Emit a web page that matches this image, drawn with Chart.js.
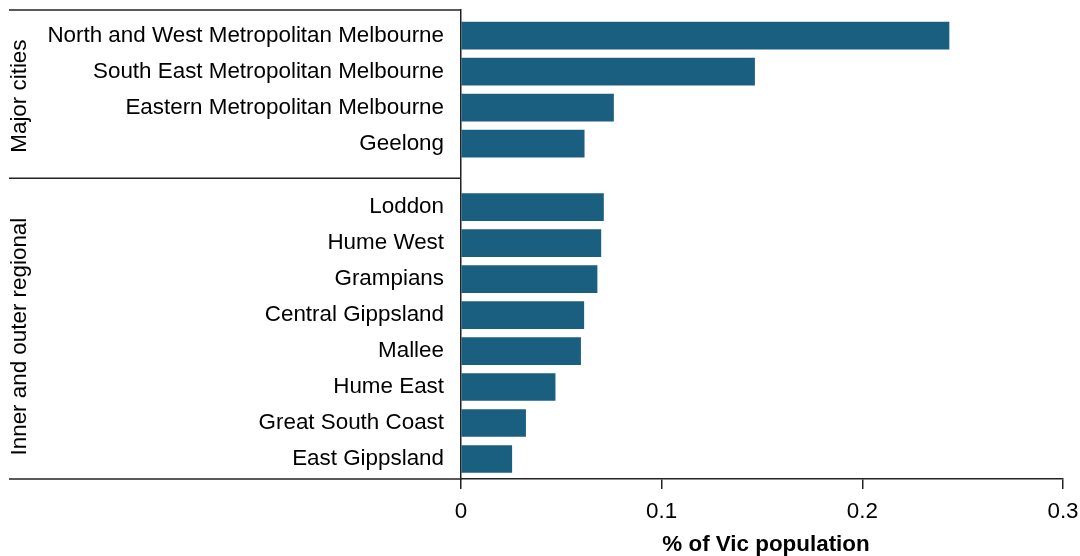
<!DOCTYPE html>
<html>
<head>
<meta charset="utf-8">
<script src="https://cdn.jsdelivr.net/npm/chart.js@4"></script>
<style>
  html, body { margin: 0; padding: 0; background: #fff; }
  #wrap { width: 1080px; height: 556px; position: relative; }
</style>
</head>
<body>
<div id="wrap"><canvas id="popChart"></canvas></div>
<script>
// data
const groupNames = ['Major cities', 'Inner and outer regional'];
const majorCities = [
  'North and West Metropolitan Melbourne',
  'South East Metropolitan Melbourne',
  'Eastern Metropolitan Melbourne',
  'Geelong'
];
const majorValues = [0.2432, 0.1463, 0.0760, 0.0614];
const regional = [
  'Loddon', 'Hume West', 'Grampians', 'Central Gippsland',
  'Mallee', 'Hume East', 'Great South Coast', 'East Gippsland'
];
const regionalValues = [0.0710, 0.0697, 0.0678, 0.0612, 0.0596, 0.0469, 0.0322, 0.0253];
const xTicks = [0, 0.1, 0.2, 0.3];

// layout of the two groups on a linear y scale (units = one bar step)
const GAP = 1.764;       // step between last bar of group 1 and first of group 2
const PAD_TOP = 0.714;
const PAD_BOTTOM = 0.556;
const DIVIDER = 0.961;   // divider distance below last bar of first group

const labels = majorCities.concat(regional);
const values = majorValues.concat(regionalValues);
const positions = [];
majorCities.forEach((_, i) => positions.push(i));
const secondStart = majorCities.length - 1 + GAP;
regional.forEach((_, i) => positions.push(secondStart + i));
const points = values.map((v, i) => ({ x: v, y: positions[i] }));
const yMin = -PAD_TOP;
const yMax = positions[positions.length - 1] + PAD_BOTTOM;

const FONT = "'Liberation Sans', Arial, sans-serif";
const FSIZE = 22.4;
const LINE = '#222';

// frame lines + rotated group names
const groupFrame = {
  id: 'groupFrame',
  afterDraw(chart) {
    const { ctx, chartArea, scales } = chart;
    const y = scales.y;
    const left = 9;
    ctx.save();
    ctx.strokeStyle = LINE;
    ctx.lineWidth = 1.5;
    const divY = y.getPixelForValue(majorCities.length - 1 + DIVIDER);
    [chartArea.top, divY, chartArea.bottom].forEach(py => {
      ctx.beginPath();
      ctx.moveTo(left, py);
      ctx.lineTo(chartArea.left, py);
      ctx.stroke();
    });

    ctx.fillStyle = '#000';
    ctx.font = FSIZE + 'px ' + FONT;
    ctx.textAlign = 'center';
    ctx.textBaseline = 'middle';
    const centers = [
      (chartArea.top + divY) / 2 + 2,
      (divY + chartArea.bottom) / 2 + 8
    ];
    groupNames.forEach((name, g) => {
      ctx.save();
      ctx.translate(20, centers[g]);
      ctx.rotate(-Math.PI / 2);
      ctx.fillText(name, 0, 0);
      ctx.restore();
    });

    // axis title, sits a little right of the scale centre in the original
    ctx.font = 'bold ' + FSIZE + 'px ' + FONT;
    ctx.fillText('% of Vic population', (chartArea.left + chartArea.right) / 2 + 4, 545);
    ctx.restore();
  }
};

new Chart(document.getElementById('popChart'), {
  type: 'bar',
  data: {
    datasets: [{
      data: points,
      backgroundColor: '#1a5f80',
      borderWidth: 0,
      barThickness: 27
    }]
  },
  options: {
    indexAxis: 'y',
    responsive: true,
    maintainAspectRatio: false,
    animation: false,
    layout: { padding: { top: 10, right: 17, bottom: 0, left: 0 } },
    plugins: {
      legend: { display: false },
      tooltip: { enabled: false }
    },
    scales: {
      x: {
        type: 'linear',
        min: 0,
        max: 0.3,
        afterBuildTicks: (scale) => { scale.ticks = xTicks.map(v => ({ value: v })); },
        afterFit: (scale) => {
          scale.height = 77;
          scale.paddingLeft = 0;
          scale.paddingRight = 0;
        },
        grid: { drawOnChartArea: false, tickLength: 10, color: LINE, lineWidth: 1.5 },
        border: { display: true, color: LINE, width: 1.5 },
        ticks: {
          padding: 9,
          maxRotation: 0,
          color: '#000',
          font: { family: FONT, size: FSIZE },
          callback: (v) => String(v)
        }
      },
      y: {
        type: 'linear',
        reverse: true,
        offset: false,
        bounds: 'data',
        min: yMin,
        max: yMax,
        afterBuildTicks: (scale) => {
          scale.ticks = positions.map(v => ({ value: v }));
        },
        afterFit: (scale) => {
          scale.width = 461;
          scale.paddingTop = 0;
          scale.paddingBottom = 0;
        },
        grid: { display: false, drawTicks: false, offset: false },
        border: { display: true, color: LINE, width: 1.5 },
        ticks: {
          autoSkip: false,
          padding: 17,
          color: '#000',
          font: { family: FONT, size: FSIZE },
          callback: (v, i) => labels[i]
        }
      }
    }
  },
  plugins: [groupFrame]
});
</script>
</body>
</html>
